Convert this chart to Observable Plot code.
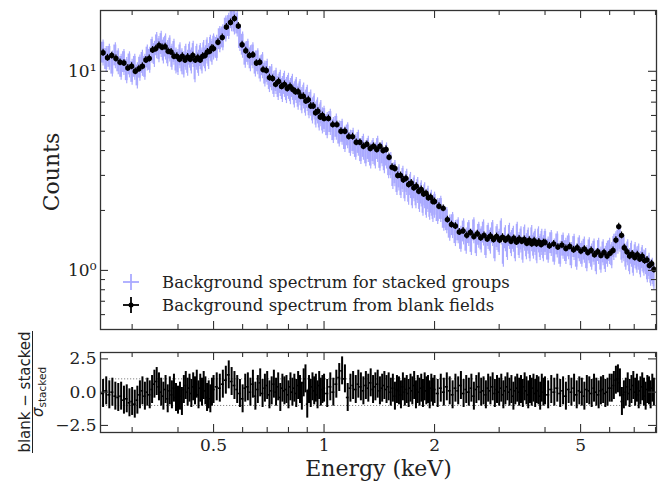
<!DOCTYPE html>
<html><head><meta charset="utf-8">
<script src="https://cdn.jsdelivr.net/npm/d3@7"></script>
<script src="https://cdn.jsdelivr.net/npm/@observablehq/plot@0.6"></script>
<style>body{margin:0;background:#fff;} #chart svg{display:block;}</style>
</head><body><div id="chart"></div>
<script>
// ---- data ----
const blackE = [0.25,0.257,0.264,0.271,0.278,0.285,0.292,0.299,0.306,0.313,0.32,0.327,0.334,0.341,0.348,0.355,0.362,0.369,0.376,0.383,0.39,0.397,0.404,0.411,0.418,0.425,0.432,0.439,0.446,0.453,0.46,0.467,0.474,0.481,0.488,0.495,
0.5,0.514,0.528,0.542,0.556,0.57,0.584,0.598,0.612,0.626,0.64,0.654,0.668,0.682,0.696,0.71,0.724,0.738,0.752,0.766,0.78,0.794,0.808,0.822,0.836,0.85,0.864,0.878,0.892,0.906,0.92,0.934,0.948,0.962,0.976,0.99,
1,1.028,1.056,1.084,1.112,1.14,1.168,1.196,1.224,1.252,1.28,1.308,1.336,1.364,1.392,1.42,1.448,1.476,1.504,1.532,1.56,1.588,1.616,1.644,1.672,1.7,1.728,1.756,1.784,1.812,1.84,1.868,1.896,1.924,1.952,1.98,
2,2.056,2.112,2.168,2.224,2.28,2.336,2.392,2.448,2.504,2.56,2.616,2.672,2.728,2.784,2.84,2.896,2.952,3.008,3.064,3.12,3.176,3.232,3.288,3.344,3.4,3.456,3.512,3.568,3.624,3.68,3.736,3.792,3.848,3.904,3.96,
4,4.112,4.224,4.336,4.448,4.56,4.672,4.784,4.896,5.008,5.12,5.232,5.344,5.456,5.568,5.68,5.792,5.904,6.016,6.128,6.24,6.352,6.464,6.576,6.688,6.8,6.912,7.024,7.136,7.248,7.36,7.472,7.584,7.696,7.808,7.92];
const blackC = [12.4,11.7,12.0,11.6,11.1,11.0,10.4,10.6,10.0,10.3,10.6,11.4,11.6,12.8,13.0,13.5,13.2,13.3,12.6,12.5,11.9,11.9,11.5,11.9,11.4,11.8,11.5,12.0,11.4,11.7,11.4,11.9,12.0,12.5,12.6,13.1,
13.0,14.0,14.8,16.7,17.6,18.4,16.9,13.6,12.7,12.0,12.1,11.0,11.1,10.2,10.1,9.3,9.2,8.6,8.9,8.4,8.6,8.2,8.4,8.1,7.9,7.9,7.5,7.5,7.1,7.2,6.7,6.7,6.2,6.3,5.9,6.0,
5.8,5.8,5.4,5.4,5.0,5.0,4.7,4.7,4.4,4.4,4.2,4.3,4.1,4.2,4.05,4.2,4.0,4.05,3.7,3.3,3.25,3.0,3.0,2.85,2.9,2.7,2.75,2.6,2.65,2.5,2.55,2.42,2.44,2.32,2.33,2.22,
2.22,2.1,2.05,1.8,1.7,1.67,1.56,1.58,1.5,1.55,1.48,1.53,1.46,1.5,1.44,1.49,1.43,1.48,1.42,1.47,1.42,1.46,1.4,1.45,1.39,1.44,1.4,1.43,1.37,1.42,1.36,1.41,1.36,1.39,1.35,1.38,
1.38,1.33,1.36,1.31,1.34,1.29,1.32,1.27,1.30,1.25,1.28,1.23,1.26,1.20,1.24,1.19,1.23,1.18,1.22,1.26,1.42,1.66,1.50,1.30,1.24,1.18,1.21,1.16,1.20,1.14,1.18,1.12,1.13,1.06,1.08,1.01];

const blueE = [0.25,0.255,0.26,0.265,0.27,0.275,0.28,0.285,0.29,0.295,0.3,0.305,0.31,0.315,0.32,0.325,0.33,0.335,0.34,0.345,0.35,0.355,0.36,0.365,0.37,0.375,0.38,0.385,0.39,0.395,0.4,0.405,0.41,0.415,0.42,0.425,0.43,0.435,0.44,0.445,0.45,0.455,0.46,0.465,0.47,0.475,0.48,0.485,0.49,0.495,
0.5,0.51,0.52,0.53,0.54,0.55,0.56,0.57,0.58,0.59,0.6,0.61,0.62,0.63,0.64,0.65,0.66,0.67,0.68,0.69,0.7,0.71,0.72,0.73,0.74,0.75,0.76,0.77,0.78,0.79,0.8,0.81,0.82,0.83,0.84,0.85,0.86,0.87,0.88,0.89,0.9,0.91,0.92,0.93,0.94,0.95,0.96,0.97,0.98,0.99,
1,1.02,1.04,1.06,1.08,1.1,1.12,1.14,1.16,1.18,1.2,1.22,1.24,1.26,1.28,1.3,1.32,1.34,1.36,1.38,1.4,1.42,1.44,1.46,1.48,1.5,1.52,1.54,1.56,1.58,1.6,1.62,1.64,1.66,1.68,1.7,1.72,1.74,1.76,1.78,1.8,1.82,1.84,1.86,1.88,1.9,1.92,1.94,1.96,1.98,
2,2.04,2.08,2.12,2.16,2.2,2.24,2.28,2.32,2.36,2.4,2.44,2.48,2.52,2.56,2.6,2.64,2.68,2.72,2.76,2.8,2.84,2.88,2.92,2.96,3,3.04,3.08,3.12,3.16,3.2,3.24,3.28,3.32,3.36,3.4,3.44,3.48,3.52,3.56,3.6,3.64,3.68,3.72,3.76,3.8,3.84,3.88,3.92,3.96,
4,4.08,4.16,4.24,4.32,4.4,4.48,4.56,4.64,4.72,4.8,4.88,4.96,5.04,5.12,5.2,5.28,5.36,5.44,5.52,5.6,5.68,5.76,5.84,5.92,6,6.08,6.16,6.24,6.32,6.4,6.48,6.56,6.64,6.72,6.8,6.88,6.96,7.04,7.12,7.2,7.28,7.36,7.44,7.52,7.6,7.68,7.76,7.84,7.92];
const blueC = [12.5,11.6,11.9,11.0,12.1,11.3,10.6,11.2,10.2,10.9,10.0,10.6,9.6,10.5,11.1,10.6,11.8,11.5,12.9,12.3,13.6,13.0,13.8,12.8,13.4,12.4,13.1,11.9,12.6,11.4,11.2,12.1,11.3,10.9,11.9,11.1,12.2,11.4,12.3,10.3,11.9,11.1,12.0,11.4,12.4,11.7,12.8,12.0,13.2,12.6,
13.4,13.2,14.6,14.9,16.5,17.0,18.6,17.9,17.5,14.8,13.7,12.2,12.6,11.7,12.1,11.0,11.3,10.4,10.8,9.8,10.0,9.2,9.4,8.7,9.0,8.4,8.8,8.2,8.7,8.1,8.5,8.0,8.4,7.7,8.1,7.5,7.9,7.2,7.6,7.0,7.4,6.8,7.0,6.4,6.7,6.1,6.4,5.9,6.2,5.7,
5.8,5.4,5.6,5.1,5.3,4.9,5.0,4.6,4.8,4.4,4.5,4.2,4.4,4.0,4.2,3.9,4.1,3.8,4.0,3.8,4.1,3.7,3.9,3.6,3.8,3.4,3.4,3.0,3.1,2.8,2.95,2.7,2.9,2.6,2.8,2.5,2.7,2.4,2.6,2.4,2.55,2.3,2.45,2.2,2.4,2.15,2.3,2.1,2.2,2.05,
2.15,2.0,2.05,1.85,1.8,1.65,1.7,1.55,1.6,1.45,1.58,1.42,1.55,1.40,1.6,1.38,1.52,1.44,1.56,1.35,1.5,1.42,1.55,1.3,1.48,1.4,1.58,1.22,1.46,1.32,1.5,1.38,1.45,1.3,1.52,1.35,1.44,1.28,1.47,1.33,1.42,1.3,1.46,1.34,1.4,1.27,1.44,1.32,1.4,1.3,
1.4,1.28,1.38,1.25,1.36,1.22,1.34,1.26,1.33,1.2,1.32,1.18,1.3,1.22,1.28,1.16,1.27,1.18,1.25,1.12,1.26,1.14,1.24,1.15,1.22,1.26,1.2,1.32,1.36,1.42,1.45,1.28,1.3,1.18,1.24,1.12,1.22,1.1,1.2,1.14,1.18,1.08,1.16,1.1,1.12,1.02,1.06,0.98,1.0,0.94];

// residuals (blank - stacked)/sigma on the blueE grid
const resid = [-0.1,0.1,-0.2,0.0,-0.3,-0.4,-0.3,-0.6,-0.5,-0.8,-0.7,-0.9,-0.6,-0.2,0.1,-0.3,0.0,-0.2,0.2,0.6,0.8,0.4,0.0,-0.3,0.2,-0.5,0.1,-0.2,0.3,-0.4,-0.6,-0.3,-0.7,0.2,0.5,0.0,0.3,-0.1,0.4,0.1,0.6,-0.2,0.3,0.0,0.5,0.1,-0.4,-0.2,-0.5,0.0,
0.2,0.4,0.3,0.6,0.9,1.3,0.8,0.5,0.2,-0.1,-0.5,0.3,0.4,0.0,0.6,-0.3,0.2,0.7,-0.1,0.3,0.5,-0.2,0.1,0.6,0.0,0.4,-0.4,0.3,0.1,0.2,-0.2,0.4,0.0,0.3,-0.1,0.5,0.2,-0.3,0.7,1.0,-0.9,0.2,-0.1,0.4,0.1,0.3,-0.2,0.5,0.0,0.2,
0.3,-0.1,0.4,0.0,0.6,1.1,1.6,1.0,-0.4,0.3,0.5,0.2,0.6,0.4,0.1,0.5,0.3,0.7,0.2,0.4,0.6,0.1,0.3,0.5,0.2,0.4,0.0,0.3,-0.3,0.2,0.1,-0.2,0.4,0.0,0.2,-0.1,0.3,0.1,0.5,-0.2,0.2,0.0,0.3,-0.1,0.4,0.1,0.2,-0.2,0.3,0.0,
0.2,-0.1,0.3,0.0,0.4,0.1,-0.2,0.3,0.1,0.5,-0.1,0.2,0.0,0.3,-0.3,0.2,0.4,0.0,0.1,-0.2,0.3,0.1,0.4,-0.1,0.2,0.0,0.3,-0.2,0.1,0.4,0.0,0.2,-0.3,0.1,0.3,0.0,0.2,-0.1,0.4,0.1,-0.2,0.2,0.0,0.3,-0.1,0.2,0.1,-0.3,0.3,0.0,
0.1,-0.2,0.2,0.0,0.3,-0.1,0.1,-0.3,0.2,0.0,0.3,-0.2,0.1,0.0,-0.3,0.2,0.1,-0.1,0.3,0.0,-0.2,0.1,0.2,-0.1,0.0,0.3,0.3,0.5,0.9,1.0,0.7,-0.7,-0.2,0.0,0.4,-0.1,0.2,0.5,0.0,0.3,-0.2,0.1,0.4,0.0,-0.3,0.2,0.1,-0.2,0.3,0.0];

const blackRelErr = 0.04, blueRelErr = 0.12, residErr = 1.05;
const xMajor = [0.5, 1, 2, 5];
const xMinor = [0.3, 0.4, 0.6, 0.7, 0.8, 0.9, 3, 4, 6, 7, 8];
const yMajorTop = [1, 10];
const yMinorTop = [0.6, 0.7, 0.8, 0.9, 2, 3, 4, 5, 6, 7, 8, 9];
const yMajorBot = [-2.5, 0, 2.5];
const legendLabels = ["Background spectrum for stacked groups", "Background spectrum from blank fields"];

// ---- layout / style ----
const BLUE = "#aaaaff", FR = "#333";
const W = 660, L = 100, R = 4;
const xDomain = [0.246, 8.05];
const topH = 330, topMT = 10, topMB = 1;
const botH = 151, botMT = 22, botMB = 49;
const pw = W - L - R, phTop = topH - topMT - topMB, phBot = botH - botMT - botMB;
const MAJ = 8, MIN = 5;

function withEdges(E) {
  return E.map((e, i) => {
    const prev = i > 0 ? E[i - 1] : e - (E[1] - E[0]);
    const next = i < E.length - 1 ? E[i + 1] : e + (e - E[i - 1]);
    return {E: e, lo: (prev + e) / 2, hi: (e + next) / 2};
  });
}
const blue = withEdges(blueE).map((d, i) => ({...d, C: blueC[i]}));
const black = blackE.map((e, i) => ({E: e, C: blackC[i]}));
const res = withEdges(blueE).map((d, i) => ({...d, v: resid[i]}));

function frameTicks(ph, yMaj, yMin) {
  const m = [];
  const tx = (arr, len) => [
    Plot.tickX(arr, {x: d => d, insetTop: ph - len, stroke: FR, strokeWidth: 1.1}),
    Plot.tickX(arr, {x: d => d, insetBottom: ph - len, stroke: FR, strokeWidth: 1.1})
  ];
  const ty = (arr, len) => [
    Plot.tickY(arr, {y: d => d, insetRight: pw - len, stroke: FR, strokeWidth: 1.1}),
    Plot.tickY(arr, {y: d => d, insetLeft: pw - len, stroke: FR, strokeWidth: 1.1})
  ];
  m.push(...tx(xMajor, MAJ), ...tx(xMinor, MIN), ...ty(yMaj, MAJ));
  if (yMin) m.push(...ty(yMin, MIN));
  return m;
}

const supers = {1: "10\u2070", 10: "10\u00b9"};

const topSvg = Plot.plot({
  width: W, height: topH, marginLeft: L, marginRight: R, marginTop: topMT, marginBottom: topMB,
  x: {type: "log", domain: xDomain, axis: null},
  y: {type: "log", domain: [0.505, 20.2]},
  style: {fontFamily: "DejaVu Serif", color: "#222", background: "white", overflow: "visible"},
  marks: [
    Plot.rect(blue, {x1: "lo", x2: "hi", y1: d => d.C * (1 - blueRelErr), y2: d => d.C * (1 + blueRelErr), fill: BLUE, clip: true}),
    Plot.ruleX(blue, {x: "E", y1: d => d.C * (1 - blueRelErr * 1.25), y2: d => d.C * (1 + blueRelErr * 1.25), stroke: BLUE, strokeWidth: 1.2, clip: true}),
    Plot.ruleX(black, {x: "E", y1: d => d.C * (1 - blackRelErr), y2: d => d.C * (1 + blackRelErr), stroke: "black", strokeWidth: 1.2, clip: true}),
    Plot.dot(black, {x: "E", y: "C", r: 2.7, fill: "black", clip: true}),
    Plot.frame({stroke: FR, strokeWidth: 1.3}),
    ...frameTicks(phTop, yMajorTop, yMinorTop),
    Plot.axisY({ticks: yMajorTop, tickFormat: d => supers[d], tickSize: 0, tickPadding: 4, fontSize: 17, label: null}),
    Plot.text(["Counts"], {text: d => d, frameAnchor: "left", dx: -49, dy: 2, rotate: -90, textAnchor: "middle", lineAnchor: "middle", fontSize: 22, fill: "#222"})
  ]
});

const botSvg = Plot.plot({
  width: W, height: botH, marginLeft: L, marginRight: R, marginTop: botMT, marginBottom: botMB,
  x: {type: "log", domain: xDomain},
  y: {domain: [-3.03, 2.98]},
  style: {fontFamily: "DejaVu Serif", color: "#222", background: "white", overflow: "visible"},
  marks: [
    Plot.ruleY([-1, 1], {stroke: "#777", strokeWidth: 0.9, strokeDasharray: "1.2,1.8"}),
    Plot.ruleX(res, {x: "E", y1: d => d.v - residErr, y2: d => d.v + residErr, stroke: "black", strokeWidth: 2, clip: true}),
    Plot.ruleY(res, {y: "v", x1: "lo", x2: "hi", stroke: "black", strokeWidth: 1.6, clip: true}),
    Plot.frame({stroke: FR, strokeWidth: 1.3}),
    ...frameTicks(phBot, yMajorBot, null),
    Plot.axisX({ticks: xMajor, tickFormat: d => String(d), tickSize: 0, tickPadding: 6, fontSize: 17, label: null}),
    Plot.axisY({ticks: yMajorBot, tickFormat: d3.format(".1f"), tickSize: 0, tickPadding: 4, fontSize: 17, label: null}),
    Plot.text(["Energy (keV)"], {text: d => d, frameAnchor: "bottom", dy: 36, lineAnchor: "middle", fontSize: 22, fill: "#222"})
  ]
});

const chart = document.getElementById("chart");
chart.appendChild(topSvg);
chart.appendChild(botSvg);

// legend inside the top panel
const lg = d3.select(topSvg).append("g");
const legendColors = [BLUE, "black"];
legendLabels.forEach((lab, i) => {
  const cy = 282 + i * 23, cx = 131;
  const g = lg.append("g");
  g.append("line").attr("x1", cx - 8).attr("x2", cx + 8).attr("y1", cy).attr("y2", cy).attr("stroke", legendColors[i]).attr("stroke-width", 1.8);
  g.append("line").attr("x1", cx).attr("x2", cx).attr("y1", cy - 8).attr("y2", cy + 8).attr("stroke", legendColors[i]).attr("stroke-width", 1.8);
  if (i === 1) g.append("circle").attr("cx", cx).attr("cy", cy).attr("r", 2.5).attr("fill", "black");
  g.append("text").attr("x", 162).attr("y", cy).attr("text-anchor", "start").attr("dominant-baseline", "central")
    .attr("font-family", "DejaVu Serif").attr("font-size", 16.5).attr("fill", "#222").text(lab);
});

// fraction label for the residual panel
const fl = d3.select(botSvg).append("g").attr("transform", `translate(30, ${392 - 330}) rotate(-90)`);
fl.append("text").attr("x", 0).attr("y", 0).attr("text-anchor", "middle")
  .attr("font-family", "DejaVu Sans").attr("font-size", 15).attr("fill", "#222").text("blank \u2212 stacked");
fl.append("line").attr("x1", -61).attr("x2", 61).attr("y1", 2.5).attr("y2", 2.5).attr("stroke", "#222").attr("stroke-width", 1);
const den = fl.append("text").attr("x", 0).attr("y", 13).attr("text-anchor", "middle")
  .attr("font-family", "DejaVu Sans").attr("font-size", 15).attr("fill", "#222");
den.append("tspan").attr("font-style", "italic").text("\u03c3");
den.append("tspan").attr("font-size", 10.5).attr("dy", 3).text("stacked");
</script></body></html>
